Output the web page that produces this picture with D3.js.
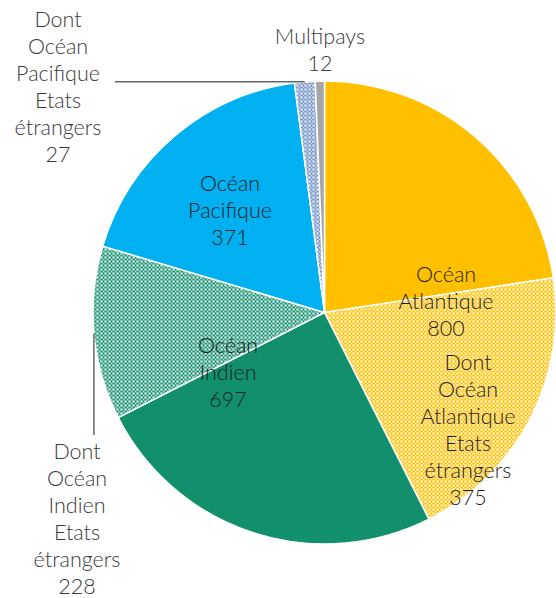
<!DOCTYPE html>
<html>
<head>
<meta charset="utf-8">
<script src="https://cdn.jsdelivr.net/npm/d3@7"></script>
<style>
  html, body { margin: 0; padding: 0; background: #fff; }
  svg text { font-family: "Century Gothic", "URW Gothic", Lato, sans-serif; font-weight: 300; }
</style>
</head>
<body>
<div id="chart"></div>
<script>
// ── Data ──
const oceans = ["Océan Atlantique", "Océan Indien", "Océan Pacifique", "Multipays"];
const totals = [800, 697, 371, 12];
const foreign = [375, 228, 27, 0]; // "Dont ... Etats étrangers"

const C = {
  gold: "#FFC000",
  green: "#12906E",
  blue: "#00B0F0",
  steel: "#6A8CC4",
  gray: "#A5A5A5",
  text: "#1f1f1f",
  textOut: "#3a3a3a",
};

// slices: solid part (total - foreign), then the hatched foreign part
const slices = [];
oceans.forEach((name, i) => {
  slices.push({ key: name, value: totals[i] - foreign[i], hatched: false, idx: i });
  if (foreign[i] > 0)
    slices.push({ key: "Dont " + name + " Etats étrangers", value: foreign[i], hatched: true, idx: i });
});

const baseColor = [C.gold, C.green, C.blue, C.gray];
const hatchColor = [C.gold, C.green, C.steel, C.gray];

// ── Chart ──
const W = 556, H = 598;
const R = 231.5;
const cx = 324.5, cy = 312.5;
const LH = 27;

const svg = d3.select("#chart").append("svg")
  .attr("width", W).attr("height", H);

const defs = svg.append("defs");
hatchColor.forEach((col, i) => {
  const p = defs.append("pattern")
    .attr("id", "hatch" + i)
    .attr("patternUnits", "userSpaceOnUse")
    .attr("width", 4).attr("height", 4);
  p.append("rect").attr("width", 4).attr("height", 4).attr("fill", col);
  p.append("rect").attr("x", 0).attr("y", 0).attr("width", 2).attr("height", 2).attr("fill", "#fff");
  p.append("rect").attr("x", 2).attr("y", 2).attr("width", 2).attr("height", 2).attr("fill", "#fff").attr("opacity", 0.6);
});

const g = svg.append("g").attr("transform", `translate(${cx},${cy})`);

const pie = d3.pie().sort(null).value((d) => d.value);
const arcs = pie(slices);
const arc = d3.arc().innerRadius(0).outerRadius(R);

g.selectAll(".slice")
  .data(arcs)
  .enter()
  .append("path")
  .attr("class", "slice")
  .attr("d", arc)
  .attr("fill", (d) => (d.data.hatched ? `url(#hatch${d.data.idx})` : baseColor[d.data.idx]))
  .attr("stroke", "#fff")
  .attr("stroke-width", 1.5);

// ── Labels ── (block centre relative to pie centre)
const labelLayout = [
  { lines: ["Océan", "Atlantique", "800"], dx: 121.5, dy: -11, color: C.text },
  { lines: ["Dont", "Océan", "Atlantique", "Etats", "étrangers", "375"], dx: 143.5, dy: 117.5, color: C.text },
  { lines: ["Océan", "Indien", "697"], dx: -96.5, dy: 59.5, color: C.text },
  { lines: ["Dont", "Océan", "Indien", "Etats", "étrangers", "228"], dx: -247.5, dy: 206.5, color: C.textOut },
  { lines: ["Océan", "Pacifique", "371"], dx: -94.5, dy: -102.5, color: C.text },
  { lines: ["Dont", "Océan", "Pacifique", "Etats", "étrangers", "27"], dx: -266.5, dy: -226, color: C.textOut },
  { lines: ["Multipays", "12"], dx: -4.5, dy: -262.5, color: C.textOut },
];

// label text values come from the data arrays
labelLayout[0].lines[2] = String(totals[0]);
labelLayout[1].lines[5] = String(foreign[0]);
labelLayout[2].lines[2] = String(totals[1]);
labelLayout[3].lines[5] = String(foreign[1]);
labelLayout[4].lines[2] = String(totals[2]);
labelLayout[5].lines[5] = String(foreign[2]);
labelLayout[6].lines[1] = String(totals[3]);

// leader lines from slice edge to label
const edgePt = (d) => d3.pointRadial((d.startAngle + d.endAngle) / 2, R);

// Indien étrangers: vertical line down to the label
{
  const [x0, y0] = edgePt(arcs[3]);
  g.append("line")
    .attr("x1", x0).attr("y1", y0)
    .attr("x2", x0).attr("y2", 122.5)
    .attr("stroke", "#1a1a1a").attr("stroke-width", 1);
}
// Pacifique étrangers: horizontal line to the label
{
  const [x0, y0] = edgePt(arcs[5]);
  g.append("line")
    .attr("x1", x0).attr("y1", y0)
    .attr("x2", -209.5).attr("y2", y0)
    .attr("stroke", "#1a1a1a").attr("stroke-width", 1);
}

labelLayout.forEach((L) => {
  const n = L.lines.length;
  const t = g.append("text")
    .attr("text-anchor", "middle")
    .attr("fill", L.color)
    .style("font-size", "21.5px");
  L.lines.forEach((s, i) => {
    t.append("tspan")
      .attr("x", L.dx)
      .attr("y", L.dy + (i - (n - 1) / 2) * LH)
      .attr("dy", "0.36em")
      .text(s);
  });
});
</script>
</body>
</html>
